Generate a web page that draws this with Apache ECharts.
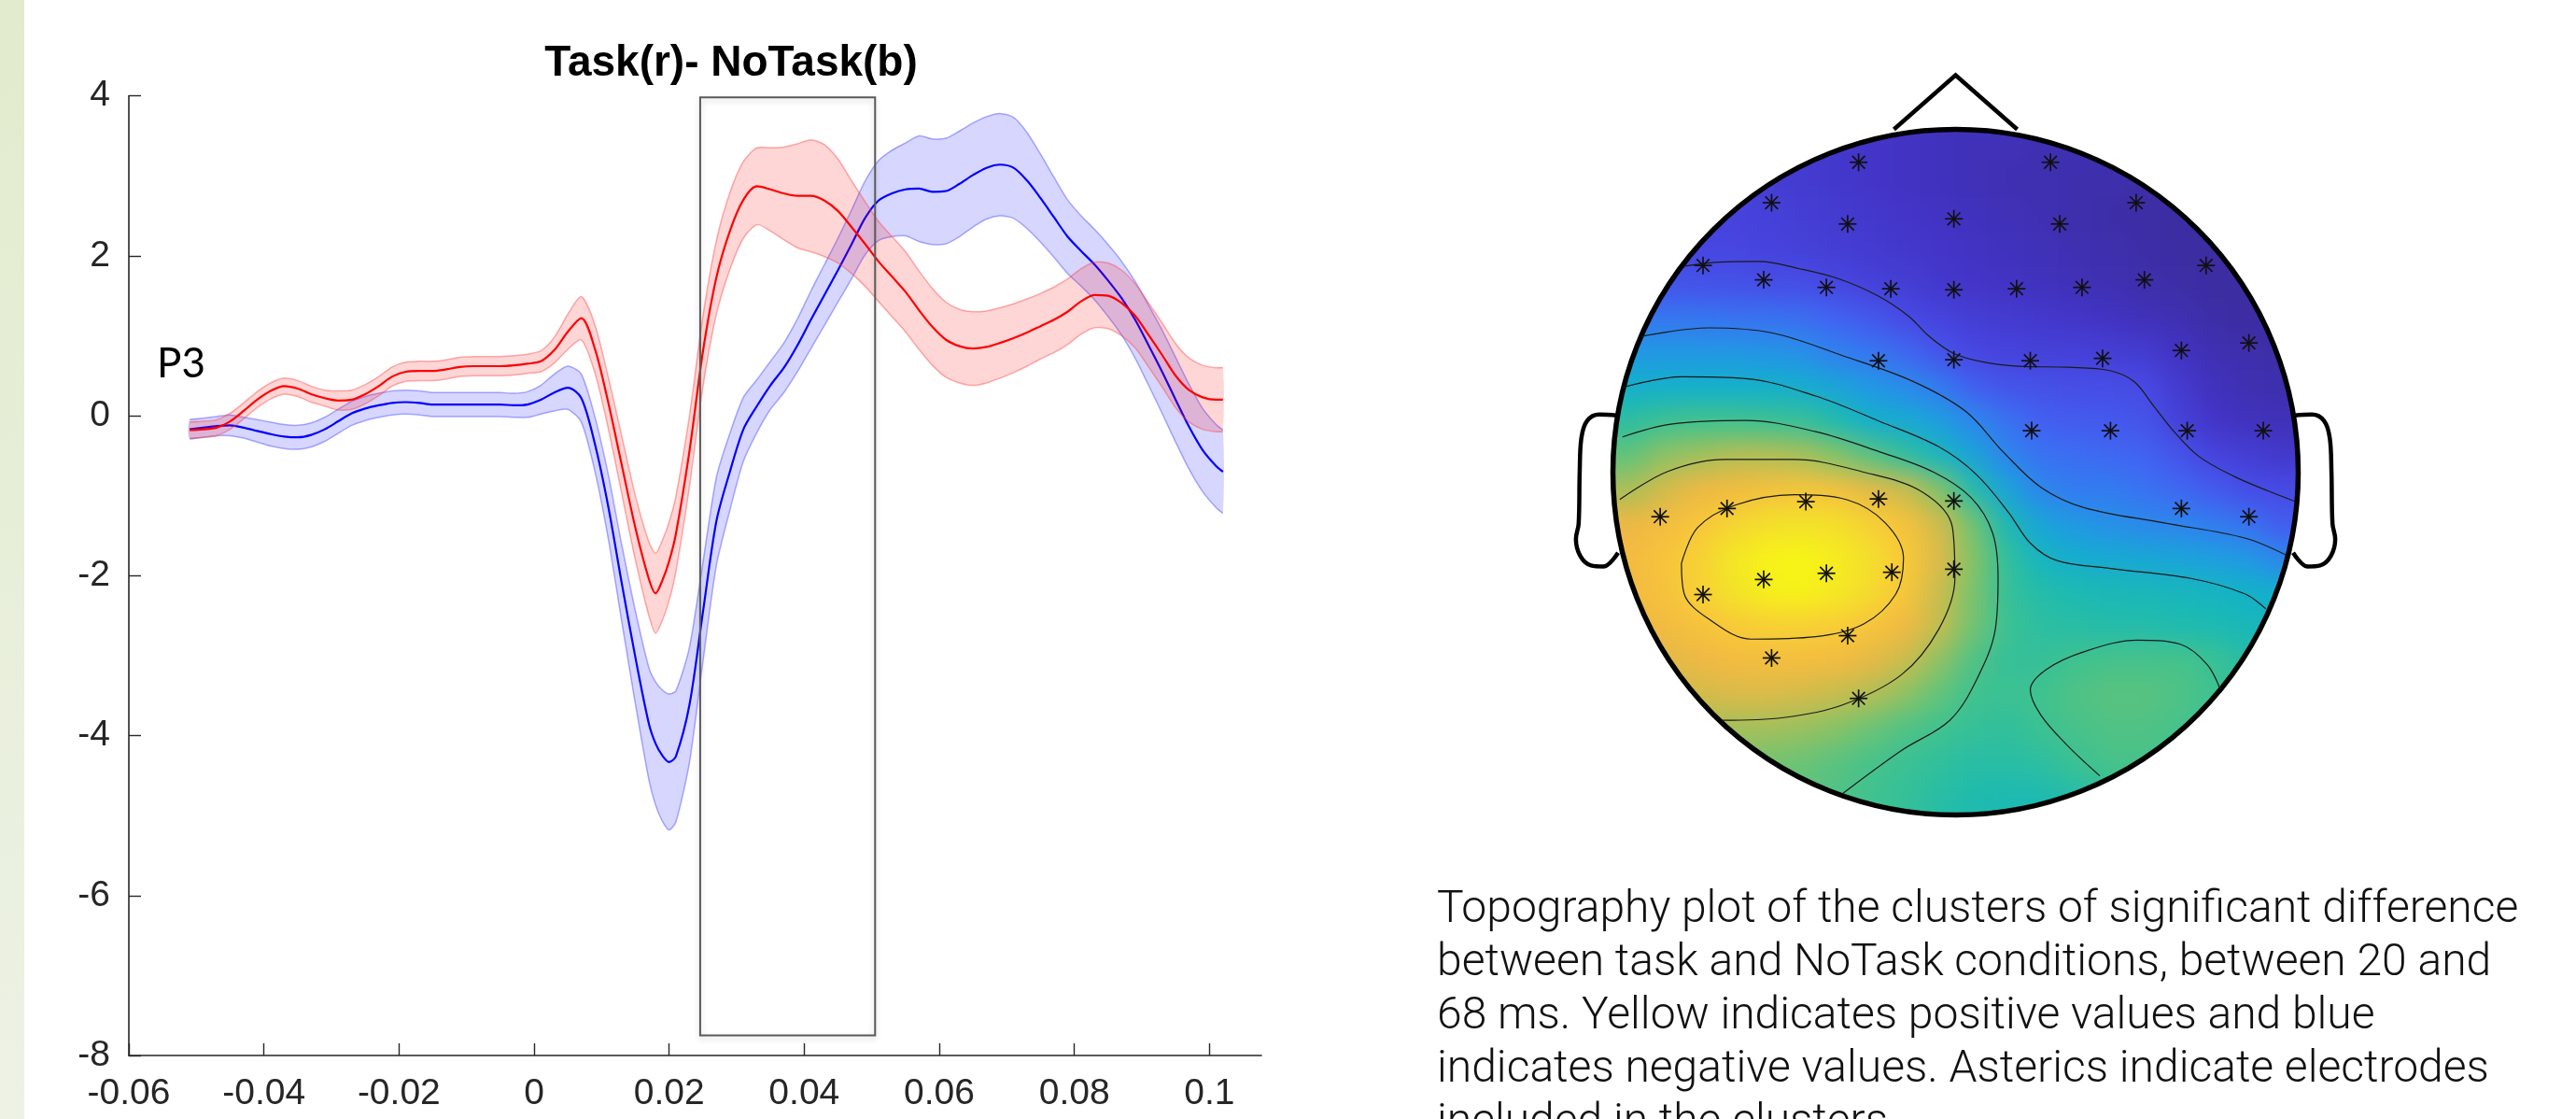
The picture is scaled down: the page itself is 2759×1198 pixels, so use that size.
<!DOCTYPE html>
<html>
<head>
<meta charset="utf-8">
<title>Task(r)- NoTask(b) P3 and topography</title>
<script src="https://cdn.jsdelivr.net/npm/echarts@6.0.0/dist/echarts.min.js"></script>
<style>
html,body{margin:0;padding:0;background:#ffffff;overflow:hidden;}
#chart{width:2759px;height:1198px;}
</style>
</head>
<body>
<div id="chart"></div>
<script>
// ---------------- ERP time courses (s, µV) ----------------
const timeSec = [-0.051,-0.049,-0.047,-0.045,-0.043,-0.041,-0.039,-0.037,-0.035,-0.033,-0.031,-0.029,-0.027,-0.025,-0.023,-0.021,-0.019,-0.017,-0.015,-0.013,-0.011,-0.009,-0.007,-0.005,-0.003,-0.001,0.001,0.003,0.005,0.007,0.009,0.011,0.013,0.015,0.017,0.018,0.019,0.020,0.021,0.023,0.025,0.027,0.029,0.031,0.033,0.035,0.037,0.039,0.041,0.043,0.045,0.047,0.049,0.051,0.053,0.055,0.057,0.059,0.061,0.063,0.065,0.067,0.069,0.071,0.073,0.075,0.077,0.079,0.081,0.083,0.085,0.087,0.089,0.091,0.093,0.095,0.097,0.099,0.101,0.102];
const taskMean = [-0.18,-0.17,-0.15,-0.07,0.06,0.20,0.31,0.37,0.34,0.27,0.22,0.19,0.20,0.27,0.37,0.49,0.55,0.56,0.56,0.58,0.61,0.62,0.62,0.62,0.63,0.65,0.68,0.82,1.05,1.22,0.84,0.16,-0.62,-1.40,-2.04,-2.22,-2.06,-1.82,-1.48,-0.45,0.80,1.73,2.31,2.70,2.87,2.83,2.78,2.75,2.75,2.69,2.56,2.36,2.15,1.93,1.74,1.55,1.32,1.11,0.95,0.87,0.84,0.86,0.91,0.97,1.04,1.12,1.20,1.30,1.43,1.51,1.50,1.41,1.25,1.01,0.76,0.50,0.32,0.23,0.20,0.20];
const taskSem = [0.10,0.10,0.10,0.10,0.10,0.10,0.10,0.10,0.10,0.10,0.10,0.12,0.12,0.12,0.12,0.12,0.12,0.12,0.12,0.12,0.12,0.12,0.12,0.12,0.12,0.12,0.13,0.16,0.22,0.27,0.30,0.32,0.36,0.40,0.46,0.50,0.50,0.49,0.47,0.44,0.44,0.46,0.48,0.48,0.48,0.52,0.58,0.65,0.70,0.70,0.65,0.58,0.53,0.50,0.50,0.50,0.49,0.48,0.47,0.46,0.46,0.45,0.44,0.43,0.42,0.41,0.41,0.41,0.41,0.41,0.41,0.41,0.40,0.40,0.40,0.40,0.40,0.40,0.40,0.40];
const noTaskMean = [-0.17,-0.15,-0.13,-0.12,-0.15,-0.19,-0.23,-0.26,-0.27,-0.24,-0.17,-0.07,0.03,0.09,0.13,0.16,0.17,0.16,0.14,0.14,0.14,0.14,0.14,0.14,0.13,0.14,0.20,0.29,0.35,0.22,-0.35,-1.14,-2.10,-3.02,-3.85,-4.10,-4.25,-4.33,-4.26,-3.62,-2.46,-1.32,-0.70,-0.17,0.12,0.38,0.60,0.88,1.20,1.51,1.82,2.14,2.47,2.69,2.78,2.83,2.84,2.80,2.81,2.90,3.01,3.10,3.14,3.10,2.94,2.72,2.48,2.24,2.06,1.89,1.69,1.47,1.20,0.88,0.55,0.20,-0.14,-0.43,-0.63,-0.70];
const noTaskSem = [0.12,0.12,0.12,0.13,0.13,0.14,0.15,0.15,0.15,0.15,0.15,0.15,0.15,0.15,0.15,0.15,0.15,0.15,0.15,0.15,0.15,0.15,0.15,0.15,0.15,0.16,0.18,0.23,0.27,0.30,0.34,0.40,0.48,0.58,0.70,0.77,0.82,0.85,0.82,0.72,0.62,0.55,0.48,0.40,0.33,0.30,0.31,0.33,0.36,0.38,0.40,0.43,0.46,0.50,0.54,0.58,0.66,0.66,0.66,0.66,0.65,0.64,0.64,0.63,0.60,0.55,0.50,0.46,0.44,0.44,0.45,0.46,0.48,0.50,0.52,0.53,0.53,0.52,0.52,0.52];
const sigWindowSec = [0.0246, 0.0505];
const sigWindowAmp = [-7.75, 3.98];

// ---------------- Topography (head units, radius 1) ----------------
const topoX = [-0.95,-0.85,-0.75,-0.65,-0.55,-0.45,-0.35,-0.25,-0.15,-0.05,0.05,0.15,0.25,0.35,0.45,0.55,0.65,0.75,0.85,0.95];
const topoY = [0.95,0.85,0.75,0.65,0.55,0.45,0.35,0.25,0.15,0.05,-0.05,-0.15,-0.25,-0.35,-0.45,-0.55,-0.65,-0.75,-0.85,-0.95];
// relative value (0 = most negative / blue, 100 = most positive / yellow)
const topoRows = [
 [10,10,10,10,10,10,9,8,7,6,5,5,4,4,3,3,2,2,2,2],
 [12,12,12,12,11,10,9,8,7,6,5,4,4,3,3,2,2,1,1,1],
 [13,13,13,13,12,11,10,9,8,7,6,5,4,3,2,2,1,1,1,1],
 [15,15,14,14,13,12,11,10,9,8,7,6,5,4,3,2,1,1,1,1],
 [18,18,17,17,16,16,14,12,11,9,8,7,6,5,4,3,2,1,1,1],
 [26,26,26,25,25,24,22,19,15,13,11,10,9,8,7,5,4,2,1,1],
 [34,34,34,34,33,32,28,26,23,18,14,13,12,12,11,10,7,4,3,2],
 [42,42,42,42,42,41,38,34,31,27,21,18,17,16,16,15,10,6,4,3],
 [53,56,57,57,56,55,50,42,40,36,30,25,21,20,19,18,12,8,6,5],
 [61,66,68,70,70,69,65,60,54,46,38,29,25,24,23,22,18,13,11,9],
 [69,74,78,80,82,84,82,77,73,65,51,38,29,27,27,25,23,20,16,15],
 [78,81,85,89,92,93,92,88,83,74,63,48,38,34,32,30,29,27,25,20],
 [80,84,88,94,98,99,96,92,86,76,65,54,45,41,40,39,38,36,34,29],
 [80,83,88,93,97,98,95,91,85,73,64,55,51,49,48,47,46,45,43,41],
 [78,80,83,86,88,88,87,84,79,72,63,56,53,52,51,51,50,49,47,45],
 [74,76,78,80,81,81,80,77,73,66,59,55,55,57,58,58,58,56,52,48],
 [70,72,74,75,75,74,72,70,66,61,57,56,57,59,60,60,59,57,54,50],
 [66,67,68,68,68,67,65,62,59,57,55,54,56,58,59,59,58,56,54,52],
 [64,64,64,64,63,62,60,58,56,54,52,52,53,56,58,58,57,56,55,54],
 [62,62,62,62,61,60,59,57,55,52,50,49,49,51,53,54,54,54,54,54]
];
const electrodeX = [-0.283,0.277,-0.537,0.527,-0.315,-0.005,0.304,-0.737,0.731,-0.560,-0.377,-0.189,-0.005,0.178,0.369,0.551,-0.225,-0.005,0.218,0.429,0.659,0.856,0.222,0.452,0.676,0.898,0.659,0.856,-0.862,-0.667,-0.437,-0.225,-0.005,-0.560,-0.377,-0.186,-0.005,-0.737,-0.315,-0.537,-0.283];
const electrodeY = [0.904,0.904,0.786,0.786,0.724,0.739,0.724,0.603,0.603,0.561,0.539,0.535,0.532,0.535,0.539,0.561,0.325,0.328,0.325,0.332,0.355,0.377,0.121,0.121,0.121,0.121,-0.106,-0.130,-0.130,-0.106,-0.086,-0.078,-0.084,-0.313,-0.295,-0.292,-0.283,-0.357,-0.477,-0.542,-0.660];
const contourLines = [
 [[-0.791,0.601],[-0.691,0.613],[-0.575,0.615],[-0.458,0.594],[-0.341,0.564],[-0.224,0.513],[-0.137,0.455],[-0.078,0.397],[-0.005,0.346],[0.082,0.321],[0.184,0.309],[0.330,0.306],[0.447,0.297],[0.520,0.265],[0.579,0.192],[0.637,0.119],[0.710,0.046],[0.812,-0.012],[0.915,-0.056],[0.990,-0.085]],
 [[-0.917,0.396],[-0.721,0.421],[-0.534,0.406],[-0.330,0.340],[-0.127,0.266],[0.030,0.177],[0.139,0.059],[0.249,-0.044],[0.374,-0.103],[0.609,-0.148],[0.844,-0.192],[0.969,-0.244]],
 [[-0.972,0.247],[-0.800,0.278],[-0.612,0.273],[-0.408,0.222],[-0.221,0.148],[-0.049,0.074],[0.061,-0.007],[0.155,-0.118],[0.218,-0.207],[0.296,-0.258],[0.452,-0.281],[0.687,-0.310],[0.844,-0.355],[0.906,-0.399]],
 [[-0.972,0.103],[-0.831,0.140],[-0.612,0.151],[-0.408,0.118],[-0.221,0.059],[-0.064,0.000],[0.045,-0.074],[0.108,-0.177],[0.124,-0.310],[0.116,-0.458],[0.061,-0.606],[-0.017,-0.724],[-0.158,-0.812],[-0.330,-0.938]],
 [[-0.980,-0.080],[-0.840,0.002],[-0.674,0.037],[-0.471,0.037],[-0.268,0.000],[-0.095,-0.059],[-0.009,-0.162],[-0.002,-0.310],[-0.049,-0.458],[-0.158,-0.591],[-0.330,-0.679],[-0.502,-0.716],[-0.682,-0.724]],
 [[-0.800,-0.266],[-0.753,-0.162],[-0.643,-0.096],[-0.471,-0.066],[-0.315,-0.081],[-0.205,-0.148],[-0.152,-0.251],[-0.174,-0.355],[-0.268,-0.443],[-0.408,-0.480],[-0.596,-0.487],[-0.721,-0.428],[-0.792,-0.355],[-0.800,-0.266]],
 [[0.421,-0.886],[0.327,-0.798],[0.249,-0.709],[0.218,-0.635],[0.264,-0.576],[0.374,-0.524],[0.531,-0.490],[0.656,-0.502],[0.734,-0.561],[0.773,-0.635]]
];
const noseOutline = [[-0.18,1.0],[0,1.158],[0.18,1.0]];
const leftEarOutline = [[-0.985,0.165],[-1.040,0.168],[-1.075,0.150],[-1.092,0.100],[-1.097,0.000],[-1.100,-0.150],[-1.108,-0.195],[-1.095,-0.245],[-1.064,-0.272],[-1.027,-0.275],[-0.985,-0.235]];
const rightEarOutline = [[0.985,0.165],[1.040,0.168],[1.075,0.150],[1.092,0.100],[1.097,0.000],[1.100,-0.150],[1.108,-0.195],[1.095,-0.245],[1.064,-0.272],[1.027,-0.275],[0.985,-0.235]];

const titleText = 'Task(r)- NoTask(b)';
const channelLabel = 'P3';
const captionLines = [
 'Topography plot of the clusters of significant difference',
 'between task and NoTask conditions, between 20 and',
 '68 ms. Yellow indicates positive values and blue',
 'indicates negative values. Asterics indicate electrodes',
 'included in the clusters.'
];

// ---------------- build ----------------
const TOPO_STEP = 0.1;
const heatData = [];
topoRows.forEach((row, j) => row.forEach((v, i) => heatData.push([topoX[i], topoY[j], v])));

const parula = ['#3b2c9c','#4233c4','#4747e2','#4360f2','#2f83ef','#1e9ee0','#12b2c8','#1fbbae','#40c28e','#7ec36a','#c1bd4f','#f2b843','#f9c83a','#f3e22a','#f8f812'];

function bandRenderer(mean, sem, fill, edge) {
  return function (params, api) {
    const up = timeSec.map((t, i) => api.coord([t, mean[i] + sem[i]]));
    const lo = timeSec.map((t, i) => api.coord([t, mean[i] - sem[i]]));
    return { type: 'group', children: [
      { type: 'polygon', shape: { points: up.concat(lo.slice().reverse()), smooth: 0.25 }, style: { fill: fill } },
      { type: 'polyline', shape: { points: up, smooth: 0.25 }, style: { stroke: edge, lineWidth: 1.5, fill: null } },
      { type: 'polyline', shape: { points: lo, smooth: 0.25 }, style: { stroke: edge, lineWidth: 1.5, fill: null } }
    ]};
  };
}

const axisColor = '#262626';
const lblFont = '"Liberation Sans", Arial, Helvetica, sans-serif';

const series = [
  { type: 'custom', name: 'NoTask band', xAxisIndex: 0, yAxisIndex: 0, zlevel: 1, z: 2,
    data: [[timeSec[0], noTaskMean[0]]], encode: { x: 0, y: 1 },
    renderItem: bandRenderer(noTaskMean, noTaskSem, 'rgba(0,0,255,0.16)', 'rgba(70,70,255,0.45)'), silent: true },
  { type: 'line', name: 'NoTask', xAxisIndex: 0, yAxisIndex: 0, zlevel: 1, z: 3,
    data: timeSec.map((t, i) => [t, noTaskMean[i]]), smooth: 0.3, symbol: 'none',
    lineStyle: { color: '#0000ff', width: 2.2 }, silent: true },
  { type: 'custom', name: 'Task band', xAxisIndex: 0, yAxisIndex: 0, zlevel: 1, z: 4,
    data: [[timeSec[0], taskMean[0]]], encode: { x: 0, y: 1 },
    renderItem: bandRenderer(taskMean, taskSem, 'rgba(255,0,0,0.16)', 'rgba(255,70,70,0.45)'), silent: true },
  { type: 'line', name: 'Task', xAxisIndex: 0, yAxisIndex: 0, zlevel: 1, z: 5,
    data: timeSec.map((t, i) => [t, taskMean[i]]), smooth: 0.3, symbol: 'none',
    lineStyle: { color: '#ff0000', width: 2.2 }, silent: true },
  { type: 'custom', name: 'window', xAxisIndex: 0, yAxisIndex: 0, zlevel: 1, z: 6,
    data: [[sigWindowSec[0], sigWindowAmp[0], sigWindowSec[1], sigWindowAmp[1]]],
    encode: { x: [0, 2], y: [1, 3] },
    renderItem: function (params, api) {
      const a = api.coord([api.value(0), api.value(3)]);
      const b = api.coord([api.value(2), api.value(1)]);
      return { type: 'rect', shape: { x: a[0], y: a[1], width: b[0] - a[0], height: b[1] - a[1] },
        style: { fill: null, stroke: '#5a5a5a', lineWidth: 2, shadowBlur: 6, shadowColor: 'rgba(0,0,0,0.18)', shadowOffsetY: 3 } };
    }, silent: true },
  // heat field (own canvas layer, softened)
  { type: 'custom', name: 'topo', xAxisIndex: 1, yAxisIndex: 1, zlevel: 0, z: 1,
    data: heatData, encode: { x: 0, y: 1 }, silent: true,
    renderItem: function (params, api) {
      const x = api.value(0), y = api.value(1), h = TOPO_STEP / 2;
      let x0 = x - h, x1 = x + h, y0 = y - h, y1 = y + h;
      if (x0 < -0.99) x0 -= 0.2; if (x1 > 0.99) x1 += 0.2;
      if (y0 < -0.99) y0 -= 0.2; if (y1 > 0.99) y1 += 0.2;
      const p0 = api.coord([x0, y1]), p1 = api.coord([x1, y0]);
      return { type: 'rect', shape: { x: p0[0], y: p0[1], width: p1[0] - p0[0] + 0.6, height: p1[1] - p0[1] + 0.6 },
        style: { fill: api.visual('color') } };
    } },
  // mask + head outline
  { type: 'custom', name: 'head', xAxisIndex: 1, yAxisIndex: 1, zlevel: 1, z: 2, silent: true,
    data: [[0, 0]], encode: { x: 0, y: 1 },
    renderItem: function (params, api) {
      const c = api.coord([api.value(0), api.value(1)]);
      const r = api.size([1, 1])[0];
      return { type: 'group', children: [
        { type: 'circle', shape: { cx: c[0], cy: c[1], r: r + 172 }, style: { fill: null, stroke: '#ffffff', lineWidth: 340 } },
        { type: 'circle', shape: { cx: c[0], cy: c[1], r: r }, style: { fill: null, stroke: '#000000', lineWidth: 5.5 }, z2: 10 }
      ]};
    } },
  { type: 'line', name: 'nose', xAxisIndex: 1, yAxisIndex: 1, zlevel: 1, z: 3, data: noseOutline, symbol: 'none',
    lineStyle: { color: '#000', width: 4.5, join: 'miter' }, silent: true, clip: false },
  { type: 'line', name: 'earL', xAxisIndex: 1, yAxisIndex: 1, zlevel: 1, z: 3, data: leftEarOutline, symbol: 'none', smooth: 0.35,
    lineStyle: { color: '#000', width: 4.5 }, silent: true, clip: false },
  { type: 'line', name: 'earR', xAxisIndex: 1, yAxisIndex: 1, zlevel: 1, z: 3, data: rightEarOutline, symbol: 'none', smooth: 0.35,
    lineStyle: { color: '#000', width: 4.5 }, silent: true, clip: false }
];
contourLines.forEach((pts, k) => series.push({
  type: 'line', name: 'contour' + k, xAxisIndex: 1, yAxisIndex: 1, zlevel: 1, z: 3, data: pts, symbol: 'none', smooth: 0.35,
  lineStyle: { color: '#1a1a1a', width: 1.2 }, silent: true, clip: false }));
series.push({ type: 'custom', name: 'electrodes', xAxisIndex: 1, yAxisIndex: 1, zlevel: 1, z: 4, silent: true,
  data: electrodeX.map((x, i) => [x, electrodeY[i]]), encode: { x: 0, y: 1 },
  renderItem: function (params, api) {
    const p = api.coord([api.value(0), api.value(1)]);
    const a = 9.5, d = 6.8;
    const segs = [[-a, 0, a, 0], [0, -a, 0, a], [-d, -d, d, d], [-d, d, d, -d]];
    return { type: 'group', children: segs.map(s => ({ type: 'line',
      shape: { x1: p[0] + s[0], y1: p[1] + s[1], x2: p[0] + s[2], y2: p[1] + s[3] },
      style: { stroke: '#111', lineWidth: 1.7 } })) };
  } });

const heatIndex = 5;

const option = {
  animation: false,
  grid: [
    { left: 138, top: 102.6, width: 1213, height: 1027.4, containLabel: false, outerBoundsMode: 'none' },
    { left: 1654.1, top: 65.1, width: 880.8, height: 880.8, containLabel: false, outerBoundsMode: 'none' }
  ],
  xAxis: [
    { type: 'value', gridIndex: 0, min: -0.06, max: 0.1077, interval: 0.02, zlevel: 1,
      axisLine: { show: true, onZero: false, lineStyle: { color: axisColor, width: 1.6 } },
      axisTick: { show: true, inside: true, length: 13, lineStyle: { color: axisColor, width: 1.4 } },
      axisLabel: { fontSize: 39, color: axisColor, fontFamily: lblFont, margin: 22,
        formatter: v => String(+v.toFixed(2)), showMaxLabel: false },
      splitLine: { show: false } },
    { type: 'value', gridIndex: 1, min: -1.2, max: 1.2, show: false }
  ],
  yAxis: [
    { type: 'value', gridIndex: 0, min: -8, max: 4, interval: 2, zlevel: 1,
      axisLine: { show: true, onZero: false, lineStyle: { color: axisColor, width: 1.6 } },
      axisTick: { show: true, inside: true, length: 13, lineStyle: { color: axisColor, width: 1.4 } },
      axisLabel: { fontSize: 39, color: axisColor, fontFamily: lblFont, margin: 20 },
      splitLine: { show: false } },
    { type: 'value', gridIndex: 1, min: -1.2, max: 1.2, show: false }
  ],
  visualMap: [{ type: 'continuous', show: false, min: 0, max: 100, dimension: 2, seriesIndex: heatIndex,
    inRange: { color: parula } }],
  graphic: [
    { type: 'rect', zlevel: 1, z: 0, silent: true, shape: { x: 0, y: 0, width: 26, height: 1198 },
      style: { fill: new echarts.graphic.LinearGradient(0, 0, 0, 1, [{ offset: 0, color: '#e2ebcd' }, { offset: 1, color: '#edf2e5' }]) } },
    { type: 'text', zlevel: 1, z: 50, silent: true, x: 783, y: 68,
      style: { text: titleText, fontSize: 46, fontWeight: 'bold', fontFamily: lblFont, fill: '#000', align: 'center', verticalAlign: 'middle' } },
    { type: 'text', zlevel: 1, z: 50, silent: true, x: 168, y: 390,
      style: { text: channelLabel, fontSize: 44, fontFamily: 'Lato, "Open Sans", sans-serif', fill: '#000', align: 'left', verticalAlign: 'middle' } },
    { type: 'text', zlevel: 1, z: 100, silent: true, x: 1539, y: 946,
      style: { text: captionLines.join('\n'), fontSize: 48, fontWeight: 300, fontFamily: 'Roboto, "Liberation Sans", sans-serif',
        lineHeight: 57, fill: '#111', align: 'left', verticalAlign: 'top' } }
  ],
  series: series
};

const chart = echarts.init(document.getElementById('chart'), null, { renderer: 'canvas', width: 2759, height: 1198 });
chart.setOption(option);
const baseLayer = chart.getDom().querySelector('canvas[data-zr-dom-id="zr_0"]');
if (baseLayer) baseLayer.style.filter = 'blur(14px)';
</script>
</body>
</html>
